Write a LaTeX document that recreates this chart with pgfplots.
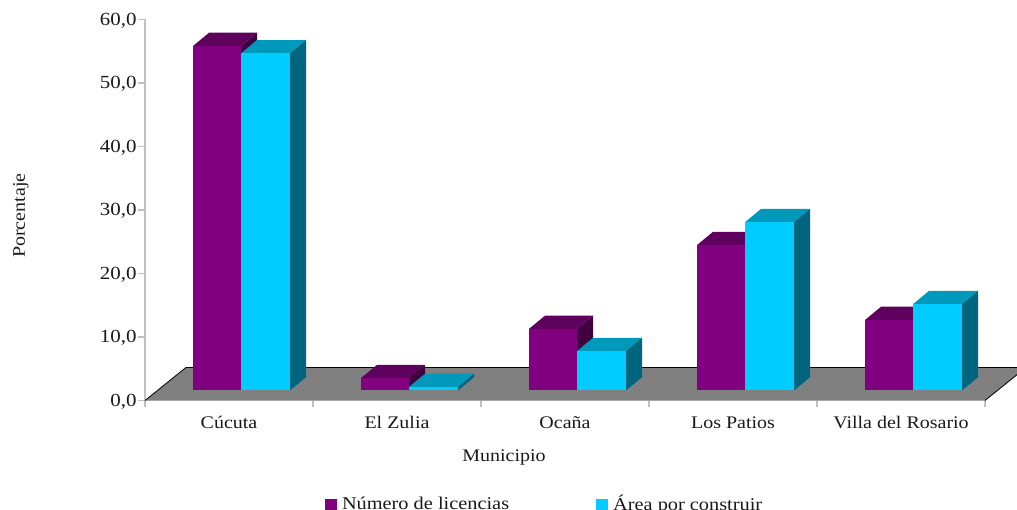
\documentclass[border=0pt]{standalone}
\usepackage{fontspec}
\setmainfont[FakeStretch=1.13]{Liberation Serif}
\usepackage{pgfplots}
\pgfplotsset{compat=1.18}
\definecolor{pfront}{HTML}{800080}
\definecolor{ptop}{HTML}{5F005F}
\definecolor{pside}{HTML}{400040}
\definecolor{bfront}{HTML}{00CCFF}
\definecolor{btop}{HTML}{0099BB}
\definecolor{bside}{HTML}{006680}
\definecolor{axgrey}{HTML}{C0C0C0}
\newcommand{\cube}[6]{%
  \pgfmathsetmacro\xa{#1}%
  \pgfmathsetmacro\xb{#2}%
  \pgfmathsetmacro\xc{#1+16}%
  \pgfmathsetmacro\xd{#2+16}%
  \pgfmathsetmacro\ya{1.575}%
  \pgfmathsetmacro\yb{1.575+2.09}%
  \pgfmathsetmacro\yc{1.575+#3}%
  \pgfmathsetmacro\yd{1.575+#3+2.09}%
  \addplot[forget plot,fill=#5,draw=none] coordinates {(\xa,\yc)(\xc,\yd)(\xd,\yd)(\xb,\yc)};
  \addplot[forget plot,fill=#6,draw=none] coordinates {(\xb,\ya)(\xd,\yb)(\xd,\yd)(\xb,\yc)};
  \addplot[forget plot,fill=#4,draw=none] coordinates {(\xa,\ya)(\xb,\ya)(\xb,\yc)(\xa,\yc)};
}
\begin{document}
\begin{tikzpicture}[x=1pt,y=1pt]
\path[use as bounding box,clip] (0,0) rectangle (1017,510);
\begin{axis}[
  at={(145pt,109.5pt)},anchor=origin,
  scale only axis,width=840pt,height=381pt,
  xmin=145,xmax=985,ymin=0,ymax=60,
  clip=false,
  axis x line=bottom,axis y line=left,
  axis line style={draw=axgrey,-,line width=1.3pt},
  tick align=outside,
  xtick={145,313,481,649,817,985},
  xticklabels={},
  extra x ticks={229,397,565,733,901},
  extra x tick labels={Cúcuta,El Zulia,Ocaña,Los Patios,Villa del Rosario},
  extra x tick style={major tick length=0pt,xticklabel style={font=\fontsize{17.7}{19}\selectfont,text=black!90,text height=12pt,text depth=4pt,yshift=-12pt}},
  ytick={0,10,20,30,40,50,60},
  tick style={draw=axgrey,line width=1.1pt},
  major tick length=7pt,
  yticklabel style={/pgf/number format/fixed,/pgf/number format/fixed zerofill,/pgf/number format/precision=1,/pgf/number format/use comma,/pgf/number format/assume math mode=true,font=\fontsize{18.5}{20}\selectfont,text=black!90,xshift=2pt,yshift=-1pt},
  xlabel={Municipio},ylabel={Porcentaje},
  every axis x label/.style={at={(axis cs:504,0)},anchor=center,yshift=-57pt,font=\fontsize{17.7}{19}\selectfont,text=black!90},
  every axis y label/.style={at={(axis cs:145,29.1)},anchor=center,rotate=90,yshift=124pt,font=\fontsize{17.7}{19}\selectfont,text=black!90},
  legend columns=2,
  legend style={at={(axis cs:325,-16.28)},anchor=west,draw=none,fill=none,inner sep=0pt,outer sep=0pt,
    font=\fontsize{18}{19}\selectfont,text=black!90,
    /tikz/column 1/.style={column sep=3pt},
    /tikz/column 2/.style={column sep=85pt},
    /tikz/column 3/.style={column sep=3pt}},
  legend image code/.code={\fill[#1] (0pt,-8.5pt) rectangle (12pt,4.5pt);},
]
\addlegendimage{fill=pfront,draw=none}
\addlegendentry{Número de licencias}
\addlegendimage{fill=bfront,draw=none}
\addlegendentry{Área por construir}
\addplot[forget plot,fill=black!50,draw=none] coordinates {(145,0)(186,5.2)(1026,5.2)(985,0)};
\addplot[forget plot,draw=black,line width=0.8pt] coordinates {(145,0)(186,5.2)(1026,5.2)(985,0)};
\cube{193}{241}{54.25}{pfront}{ptop}{pside}
\cube{241}{290}{53.1}{bfront}{btop}{bside}
\cube{361}{409}{1.95}{pfront}{ptop}{pside}
\cube{409}{458}{0.55}{bfront}{btop}{bside}
\cube{529}{577}{9.7}{pfront}{ptop}{pside}
\cube{577}{626}{6.2}{bfront}{btop}{bside}
\cube{697}{745}{22.9}{pfront}{ptop}{pside}
\cube{745}{794}{26.5}{bfront}{btop}{bside}
\cube{865}{913}{11.1}{pfront}{ptop}{pside}
\cube{913}{962}{13.6}{bfront}{btop}{bside}
\end{axis}
\end{tikzpicture}
\end{document}
